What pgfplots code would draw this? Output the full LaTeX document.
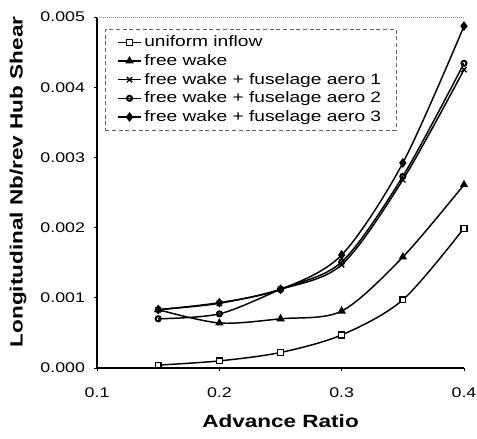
\documentclass[border=0pt]{standalone}
\usepackage{pgfplots}
\pgfplotsset{compat=1.18}
\usepackage{fontspec}
\setmainfont{Liberation Sans}[FakeStretch=1.27]
\begin{document}
\begin{tikzpicture}
\begin{axis}[
  scale only axis,
  width=275pt, height=263pt,
  xmin=0.1, xmax=0.4, ymin=0, ymax=0.005,
  axis lines=left,
  axis line style={-, line width=1pt},
  xtick={0.1,0.2,0.3,0.4},
  ytick={0,0.001,0.002,0.003,0.004,0.005},
  xticklabel style={/pgf/number format/.cd, fixed, fixed zerofill, precision=1},
  yticklabel style={/pgf/number format/.cd, fixed, fixed zerofill, precision=3},
  scaled y ticks=false, scaled x ticks=false,
  /pgf/number format/assume math mode=true,
  tick label style={font=\fontsize{10.5pt}{12pt}\selectfont},
  tick align=outside, tick style={black, line width=0.5pt}, major tick length=2.5pt,
  xticklabel shift=9pt,
  yticklabel shift=3pt,
  xlabel={\textbf{Advance Ratio}},
  ylabel={\textbf{Longitudinal Nb/rev Hub Shear}},
  label style={font=\fontsize{13.3pt}{15pt}\selectfont},
  xlabel style={at={(axis description cs:0.5,-0.152)}, anchor=center},
  ylabel style={at={(axis description cs:-0.215,0.53)}, anchor=center},
  legend style={at={(0.022,0.966)}, anchor=north west, draw=black!60, densely dashed, line width=0.4pt,
    font=\fontsize{11.3pt}{12pt}\selectfont, row sep=0.3pt, inner ysep=3pt, inner xsep=9pt,
    nodes={solid}},
  legend cell align=left,
  every axis plot/.append style={black, line width=1.1pt, smooth, tension=0.5},
  legend image post style={solid},
]
\coordinate (ll) at (rel axis cs:0,0);
\coordinate (ur) at (rel axis cs:1,1);
\draw[black!45, densely dotted, line width=0.5pt] (rel axis cs:0,1) -- (rel axis cs:1,1) -- (rel axis cs:1,0);
\addplot[mark=square*, mark options={fill=white, solid, line width=1pt}, mark size=2.2pt] coordinates {
 (0.15,0.00004) (0.2,0.0001) (0.25,0.00022) (0.3,0.00047) (0.35,0.00097) (0.4,0.00199)};
\addplot[mark=triangle*, mark options={solid}, mark size=2.6pt] coordinates {
 (0.15,0.00083) (0.2,0.00064) (0.25,0.0007) (0.3,0.00081) (0.35,0.00158) (0.4,0.00261)};
\addplot[mark=x, mark options={solid, line width=1pt}, mark size=2.8pt] coordinates {
 (0.15,0.00083) (0.2,0.00092) (0.25,0.00112) (0.3,0.00147) (0.35,0.00268) (0.4,0.00425)};
\addplot[mark=o, mark options={solid, line width=1.5pt}, mark size=1.9pt] coordinates {
 (0.15,0.0007) (0.2,0.00077) (0.25,0.00112) (0.3,0.00151) (0.35,0.00273) (0.4,0.00434)};
\addplot[mark=diamond*, mark options={solid}, mark size=2.8pt] coordinates {
 (0.15,0.00083) (0.2,0.00093) (0.25,0.00112) (0.3,0.00161) (0.35,0.00292) (0.4,0.00487)};
\legend{uniform inflow, free wake, free wake + fuselage aero 1, free wake + fuselage aero 2, free wake + fuselage aero 3}
\end{axis}
\pgfresetboundingbox
\path[use as bounding box] ([shift={(-72.75pt,-53.25pt)}]ll) rectangle ([shift={(9.75pt,12.75pt)}]ur);
\end{tikzpicture}
\end{document}
